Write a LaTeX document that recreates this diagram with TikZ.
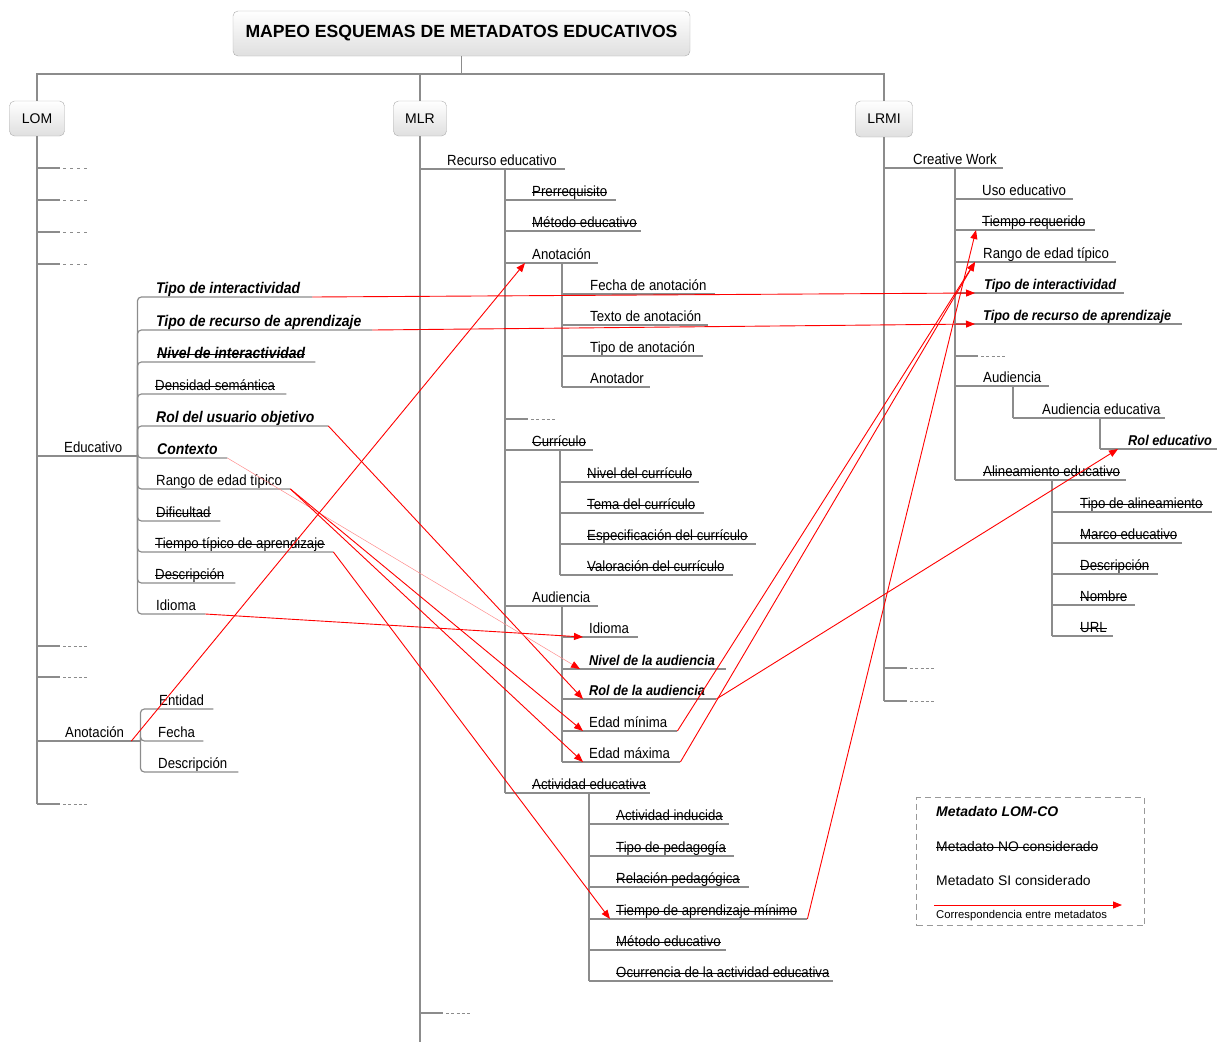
\documentclass[tikz,border=0pt]{standalone}
\usepackage{fontspec}
\setmainfont{Liberation Sans}
\newfontfamily\lblfam{Liberation Sans}[FakeStretch=0.9]
\usetikzlibrary{arrows.meta,calc}

\definecolor{treegray}{RGB}{140,140,140}

% struck-through text
\newsavebox\strkbox
\newcommand\strk[1]{\sbox\strkbox{#1}\rlap{\rule[0.45ex]{\wd\strkbox}{0.9pt}}\usebox\strkbox}

% leaf: name, parent x, line y, line end x, text indent, extra style, text
\newcommand\lf[7]{\node[leaf,#6] (#1) at (#2,#3)
  {\hbox to \dimexpr#4pt-#2pt\relax{\hskip#5pt\relax #7\hss}};}
% stub branch ending in dashes: x, y, dash style
\newcommand\stub[3]{\draw[tree] (#1,#2) -- (#1+23,#2);
  \draw[#3] (#1+26,#2) -- (#1+50,#2);}

\tikzset{
  tree/.style={draw=treegray, line width=1.2pt},
  stubA/.style={draw=treegray, line width=0.9pt, dash pattern=on 2.5pt off 4.5pt},
  stubB/.style={draw=treegray, line width=0.9pt, dash pattern=on 3pt off 2.3pt},
  leaf/.style={anchor=south west, inner xsep=0pt, inner ysep=3.3pt, text depth=0pt,
    font=\lblfam\fontsize{14.7}{16}\selectfont},
  bl/.style={font=\lblfam\fontsize{15.5}{17}\selectfont\bfseries\itshape},
  bm/.style={font=\lblfam\fontsize{14.2}{16}\selectfont\bfseries\itshape},
  box/.style={draw=gray!65, rounded corners=5pt, top color=white, bottom color=gray!25,
    inner sep=0pt, font=\fontsize{14}{16}\selectfont},
  corr/.style={draw=red, line width=0.9pt,
    -{Triangle[length=9pt,width=7pt,color=red,fill=red]}},
  faint/.style={draw=red!45, line width=0.5pt},
  legtxt/.style={anchor=base west, inner sep=0pt}
}

\begin{document}
\begin{tikzpicture}[x=1pt,y=-1pt]
\useasboundingbox (0,0) rectangle (1217,1042);

% header and the three schemes
\node[box, minimum width=457pt, minimum height=45pt,
  font=\bfseries\fontsize{17.6}{19}\selectfont] (title) at (461.5,33.5)
  {MAPEO ESQUEMAS DE METADATOS EDUCATIVOS};
\node[box, minimum width=55pt, minimum height=35pt] (lomB) at (37,118.5) {LOM};
\node[box, minimum width=53pt, minimum height=35pt] (mlrB) at (420,118.5) {MLR};
\node[box, minimum width=57pt, minimum height=36pt] (lrmiB) at (884,119) {LRMI};

\coordinate (bus) at (461.5,74);
\draw[tree] (title.south) -- (bus);
\draw[tree] (lomB.north) |- (bus) -| (lrmiB.north);
\draw[tree] (mlrB.north) -- (mlrB.north |- bus);

\coordinate (lomEnd) at (37,804);
\coordinate (mlrEnd) at (420,1042);
\coordinate (lrmiEnd) at (884,701);
\draw[tree] (lomB.south) -- (lomEnd);
\draw[tree] (mlrB.south) -- (mlrEnd);
\draw[tree] (lrmiB.south) -- (lrmiEnd);

% ---------------- LOM ----------------
\stub{37}{168}{stubA}
\stub{37}{200}{stubA}
\stub{37}{232}{stubA}
\stub{37}{264}{stubA}
\stub{37}{646}{stubB}
\stub{37}{677}{stubB}
\stub{37}{804}{stubB}

\lf{lomEdu}{37}{456}{137}{27}{}{Educativo}
\lf{lomAnot}{37}{741}{140}{28}{}{Anotación}

\lf{eTI}{137}{297}{312}{19}{bl}{Tipo de interactividad}
\lf{eTR}{137}{330}{372}{19}{bl}{Tipo de recurso de aprendizaje}
\lf{eNI}{137}{362}{315}{20}{bl}{\strk{Nivel de interactividad}}
\lf{eDS}{137}{394}{286}{18}{}{\strk{Densidad semántica}}
\lf{eRU}{137}{426}{328}{19}{bl}{Rol del usuario objetivo}
\lf{eCX}{137}{458}{227}{20}{bl}{Contexto}
\lf{eRE}{137}{489}{290}{19}{}{Rango de edad típico}
\lf{eDF}{137}{521}{220}{19}{}{\strk{Dificultad}}
\lf{eTT}{137}{552}{333}{18}{}{\strk{Tiempo típico de aprendizaje}}
\lf{eDE}{137}{583}{235}{18}{}{\strk{Descripción}}
\lf{eID}{137}{614}{205}{19}{}{Idioma}

\lf{aEN}{140}{709}{213}{19}{}{Entidad}
\lf{aFE}{140}{741}{203}{18}{}{Fecha}
\lf{aDE}{140}{772}{238}{18}{}{Descripción}

\foreach \n in {eTI,eTR,eNI,eDS,eRU,eCX,eRE,eDF,eTT,eDE,eID}
  \draw[tree, rounded corners=4pt] (lomEdu.south east) |- (\n.south east);
\foreach \n in {aEN,aFE,aDE}
  \draw[tree, rounded corners=4pt] (lomAnot.south east) |- (\n.south east);

% ---------------- MLR ----------------
\stub{420}{1013}{stubB}
\stub{505}{419}{stubB}

\lf{mRE}{420}{169}{565}{27}{}{Recurso educativo}
\lf{mPR}{505}{200}{616}{27}{}{\strk{Prerrequisito}}
\lf{mME}{505}{231}{641}{27}{}{\strk{Método educativo}}
\lf{mAN}{505}{263}{598}{27}{}{Anotación}
\lf{mFA}{562}{294}{715}{28}{}{Fecha de anotación}
\lf{mTA}{562}{325}{708}{28}{}{Texto de anotación}
\lf{mTP}{562}{356}{703}{28}{}{Tipo de anotación}
\lf{mAD}{562}{387}{650}{28}{}{Anotador}
\lf{mCU}{505}{450}{593}{27}{}{\strk{Currículo}}
\lf{mNC}{560}{482}{699}{27}{}{\strk{Nivel del currículo}}
\lf{mTC}{560}{513}{704}{27}{}{\strk{Tema del currículo}}
\lf{mEC}{560}{544}{756}{27}{}{\strk{Especificación del currículo}}
\lf{mVC}{560}{575}{733}{27}{}{\strk{Valoración del currículo}}
\lf{mAU}{505}{606}{598}{27}{}{Audiencia}
\lf{mID}{562}{637}{638}{27}{}{Idioma}
\lf{mNA}{562}{669}{726}{27}{bm}{Nivel de la audiencia}
\lf{mRA}{562}{699}{716}{27}{bm}{Rol de la audiencia}
\lf{mEmin}{562}{731}{677}{27}{}{Edad mínima}
\lf{mEmax}{562}{762}{680}{27}{}{Edad máxima}
\lf{mAE}{505}{793}{650}{27}{}{\strk{Actividad educativa}}
\lf{mAI}{589}{824}{729}{27}{}{\strk{Actividad inducida}}
\lf{mTG}{589}{856}{734}{27}{}{\strk{Tipo de pedagogía}}
\lf{mRP}{589}{887}{749}{27}{}{\strk{Relación pedagógica}}
\lf{mTM}{589}{919}{807}{27}{}{\strk{Tiempo de aprendizaje mínimo}}
\lf{mMD}{589}{950}{726}{27}{}{\strk{Método educativo}}
\lf{mOC}{589}{981}{833}{27}{}{\strk{Ocurrencia de la actividad educativa}}

\draw[tree] (mPR.south west |- mRE.south) -- (mAE.south west);
\draw[tree] (mFA.south west |- mAN.south) -- (mAD.south west);
\draw[tree] (mNC.south west |- mCU.south) -- (mVC.south west);
\draw[tree] (mID.south west |- mAU.south) -- (mEmax.south west);
\draw[tree] (mAI.south west |- mAE.south) -- (mOC.south west);

% ---------------- LRMI ----------------
\stub{884}{668}{stubB}
\stub{884}{701}{stubB}
\stub{955}{356}{stubB}

\lf{lCW}{884}{168}{1003}{29}{}{Creative Work}
\lf{lUE}{955}{199}{1073}{27}{}{Uso educativo}
\lf{lTR}{955}{230}{1095}{27}{}{\strk{Tiempo requerido}}
\lf{lRE}{955}{262}{1116}{28}{}{Rango de edad típico}
\lf{lTI}{955}{293}{1124}{29}{bm}{Tipo de interactividad}
\lf{lTP}{955}{324}{1182}{28}{bm}{Tipo de recurso de aprendizaje}
\lf{lAU}{955}{386}{1049}{28}{}{Audiencia}
\lf{lAE}{1013}{418}{1165}{29}{}{Audiencia educativa}
\lf{lRO}{1100}{449}{1217}{28}{bm}{Rol educativo}
\lf{lAL}{955}{480}{1126}{28}{}{\strk{Alineamiento educativo}}
\lf{lTA}{1052}{512}{1212}{28}{}{\strk{Tipo de alineamiento}}
\lf{lMA}{1052}{543}{1182}{28}{}{\strk{Marco educativo}}
\lf{lDS}{1052}{574}{1158}{28}{}{\strk{Descripción}}
\lf{lNO}{1052}{605}{1135}{28}{}{\strk{Nombre}}
\lf{lUR}{1052}{636}{1113}{28}{}{\strk{URL}}

\draw[tree] (lUE.south west |- lCW.south) -- (lAL.south west);
\draw[tree] (lAE.south west |- lAU.south) -- (lAE.south west);
\draw[tree] (lRO.south west |- lAE.south) -- (lRO.south west);
\draw[tree] (lTA.south west |- lAL.south) -- (lUR.south west);

% underlines of the MLR and LRMI entries and the two LOM categories
\foreach \n in {lomEdu,lomAnot,
  mRE,mPR,mME,mAN,mFA,mTA,mTP,mAD,mCU,mNC,mTC,mEC,mVC,mAU,mID,mNA,mRA,mEmin,mEmax,
  mAE,mAI,mTG,mRP,mTM,mMD,mOC,
  lCW,lUE,lTR,lRE,lTI,lTP,lAU,lAE,lRO,lAL,lTA,lMA,lDS,lNO,lUR}
  \draw[tree] (\n.south west) -- (\n.south east);

% ---------------- correspondences ----------------
\draw[corr] (eTI.south east) -- ($(lTI.south west)+(20,0)$);
\draw[corr] (eTR.south east) -- ($(lTP.south west)+(20,0)$);
\draw[corr] (eRU.south east) -- ($(mRA.south west)+(21,0)$);
\draw[corr,faint] (eCX.south east) -- ($(mNA.south west)+(18,0)$);
\draw[corr] (eRE.south east) -- ($(mEmin.south west)+(21,0)$);
\draw[corr] (eRE.south east) -- ($(mEmax.south west)+(21,0)$);
\draw[corr] (eTT.south east) -- ($(mTM.south west)+(21,0)$);
\draw[corr] (eID.south east) -- ($(mID.south west)+(21,0)$);
\draw[corr] ($(lomAnot.south east)+(-9,0)$) -- ($(mAN.south west)+(20,0)$);
\draw[corr] (mRA.south east) -- ($(lRO.south west)+(18,0)$);
\draw[corr] (mEmin.south east) -- ($(lRE.south west)+(20,0)$);
\draw[corr] (mEmax.south east) -- ($(lRE.south west)+(20,0)$);
\draw[corr] (mTM.south east) -- ($(lTR.south west)+(21,0)$);

% ---------------- legend ----------------
\node[draw=gray!80, line width=1.2pt, dash pattern=on 6pt off 4pt, anchor=north west,
  minimum width=228pt, minimum height=128pt, inner sep=0pt] (leg) at (916,797) {};
\node[legtxt, font=\bfseries\itshape\fontsize{14}{16}\selectfont] (lg1) at (936,816) {Metadato LOM-CO};
\node[legtxt, font=\fontsize{13.9}{16}\selectfont] (lg2) at (936,851) {\strk{Metadato NO considerado}};
\node[legtxt, font=\fontsize{13.9}{16}\selectfont] (lg3) at (936,885) {Metadato SI considerado};
\coordinate (lgA) at (934,905);
\coordinate (lgB) at (1122,905);
\draw[corr] (lgA) -- (lgB);
\node[legtxt, font=\fontsize{11.3}{13}\selectfont] (lg4) at (936,918) {Correspondencia entre metadatos};
\end{tikzpicture}
\end{document}
